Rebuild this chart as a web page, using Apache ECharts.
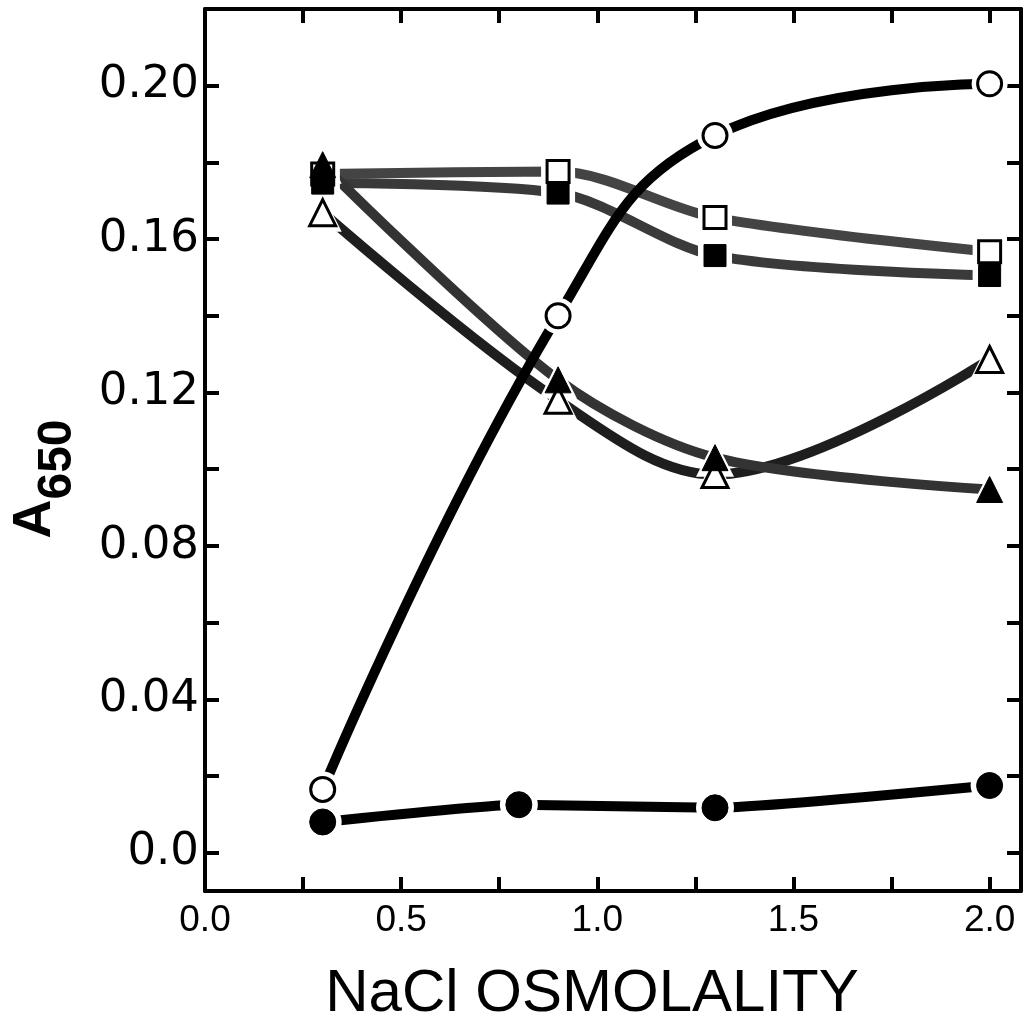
<!DOCTYPE html>
<html>
<head>
<meta charset="utf-8">
<script src="https://cdn.jsdelivr.net/npm/echarts@6/dist/echarts.min.js"></script>
<style>
html,body{margin:0;padding:0;background:#fff;}
#chart{width:1027px;height:1017px;}
</style>
</head>
<body>
<div id="chart"></div>
<script>
// ---- data ----
const osmoOpenCircle   = [0.3, 0.9, 1.3, 2.0];
const a650OpenCircle   = [0.0165, 0.140, 0.187, 0.2005];
const osmoFilledCircle = [0.3, 0.8, 1.3, 2.0];
const a650FilledCircle = [0.008, 0.0125, 0.0117, 0.0175];
const osmoOther        = [0.3, 0.9, 1.3, 2.0];
const a650OpenSquare     = [0.177, 0.1776, 0.1656, 0.1567];
const a650FilledSquare   = [0.1746, 0.172, 0.1557, 0.1505];
const a650OpenTriangle   = [0.1669, 0.118, 0.0986, 0.1286];
const a650FilledTriangle = [0.1794, 0.1233, 0.103, 0.0947];

const xTicks  = [0.25, 0.5, 0.75, 1.0, 1.25, 1.5, 1.75, 2.0];
const xLabels = [0, 0.5, 1.0, 1.5, 2.0];
const yTicks  = [0, 0.02, 0.04, 0.06, 0.08, 0.10, 0.12, 0.14, 0.16, 0.18, 0.20];
const yLabels = [0, 0.04, 0.08, 0.12, 0.16, 0.20];

const xTitle = 'NaCl OSMOLALITY';
const yTitleMain = 'A';
const yTitleSub = '650';

function pairs(xs, ys){ return xs.map((x,i)=>[x, ys[i]]); }

const chart = echarts.init(document.getElementById('chart'), null, {renderer:'canvas'});

const axisLine = {show:true, onZero:false, lineStyle:{color:'#000', width:4}};
const tickStyle = {color:'#000', width:4};

function mkGroup(name, xs, ys, symbol, filled, lineColor, smooth, size){
  const data = pairs(xs, ys);
  return [
    {
      name: name + ' line', type:'line', data,
      smooth: smooth, symbol:'none',
      lineStyle:{color:lineColor, width:10, cap:'round'},
      z: 2
    },
    {
      name: name + ' gap', type:'scatter', data,
      symbol, symbolSize: size + 12,
      itemStyle:{color:'#fff', opacity:1},
      silent:true, z: 3
    },
    {
      name: name, type:'scatter', data,
      symbol, symbolSize: size,
      itemStyle: filled ? {color:'#000', borderColor:'#000', borderWidth:1, opacity:1}
                        : {color:'#fff', borderColor:'#000', borderWidth:3, opacity:1},
      z: 4
    }
  ];
}

const option = {
  backgroundColor:'#fff',
  animation:false,
  grid:{left:205, right:6, top:9, bottom:126, containLabel:false, outerBoundsMode:'none'},
  xAxis:[{
    type:'value', min:0, max:2.08, position:'bottom',
    axisLine,
    splitLine:{show:false},
    axisTick:{show:true, inside:true, length:14, lineStyle:tickStyle, customValues:xTicks},
    axisLabel:{show:true, customValues:xLabels, margin:11,
      fontFamily:'Liberation Sans', fontSize:37, color:'#000',
      formatter:v=>v.toFixed(1)},
    name:xTitle, nameLocation:'middle', nameGap:73,
    nameTextStyle:{fontFamily:'Liberation Sans', fontSize:60, color:'#000', padding:[0,42,0,0]}
  },{
    type:'value', min:0, max:2.08, position:'top',
    axisLine,
    splitLine:{show:false},
    axisTick:{show:true, inside:true, length:14, lineStyle:tickStyle, customValues:xTicks},
    axisLabel:{show:false}
  }],
  yAxis:[{
    type:'value', min:-0.01, max:0.22, position:'left',
    axisLine,
    splitLine:{show:false},
    axisTick:{show:true, inside:true, length:14, lineStyle:tickStyle, customValues:yTicks},
    axisLabel:{show:true, customValues:yLabels, margin:6,
      fontFamily:'DejaVu Sans', fontSize:45, color:'#000',
      formatter:v=> v===0 ? '0.0' : v.toFixed(2)},
    name:'{a|' + yTitleMain + '}{s|' + yTitleSub + '}', nameLocation:'middle', nameGap:123, nameRotate:90,
    nameTextStyle:{
      padding:[0,58,0,0],
      rich:{
        a:{fontFamily:'Liberation Sans', fontSize:54, fontWeight:'bold', color:'#000', verticalAlign:'bottom', lineHeight:56, padding:[0,0,20,0]},
        s:{fontFamily:'Liberation Sans', fontSize:48, fontWeight:'bold', color:'#000', verticalAlign:'bottom', lineHeight:50}
      }
    }
  },{
    type:'value', min:-0.01, max:0.22, position:'right',
    axisLine,
    splitLine:{show:false},
    axisTick:{show:true, inside:true, length:14, lineStyle:tickStyle, customValues:yTicks},
    axisLabel:{show:false}
  }],
  series:[].concat(
    mkGroup('open square', osmoOther, a650OpenSquare, 'rect', false, '#444', 0.3, 22),
    mkGroup('filled square', osmoOther, a650FilledSquare, 'rect', true, '#3a3a3a', 0.3, 22),
    mkGroup('open triangle', osmoOther, a650OpenTriangle, 'triangle', false, '#1e1e1e', 0.35, 26),
    mkGroup('filled triangle', osmoOther, a650FilledTriangle, 'triangle', true, '#333', 0.3, 26),
    mkGroup('filled circle', osmoFilledCircle, a650FilledCircle, 'circle', true, '#000', 0.15, 26),
    mkGroup('open circle', osmoOpenCircle, a650OpenCircle, 'circle', false, '#000', 0.45, 24)
  )
};
chart.setOption(option);
</script>
</body>
</html>
